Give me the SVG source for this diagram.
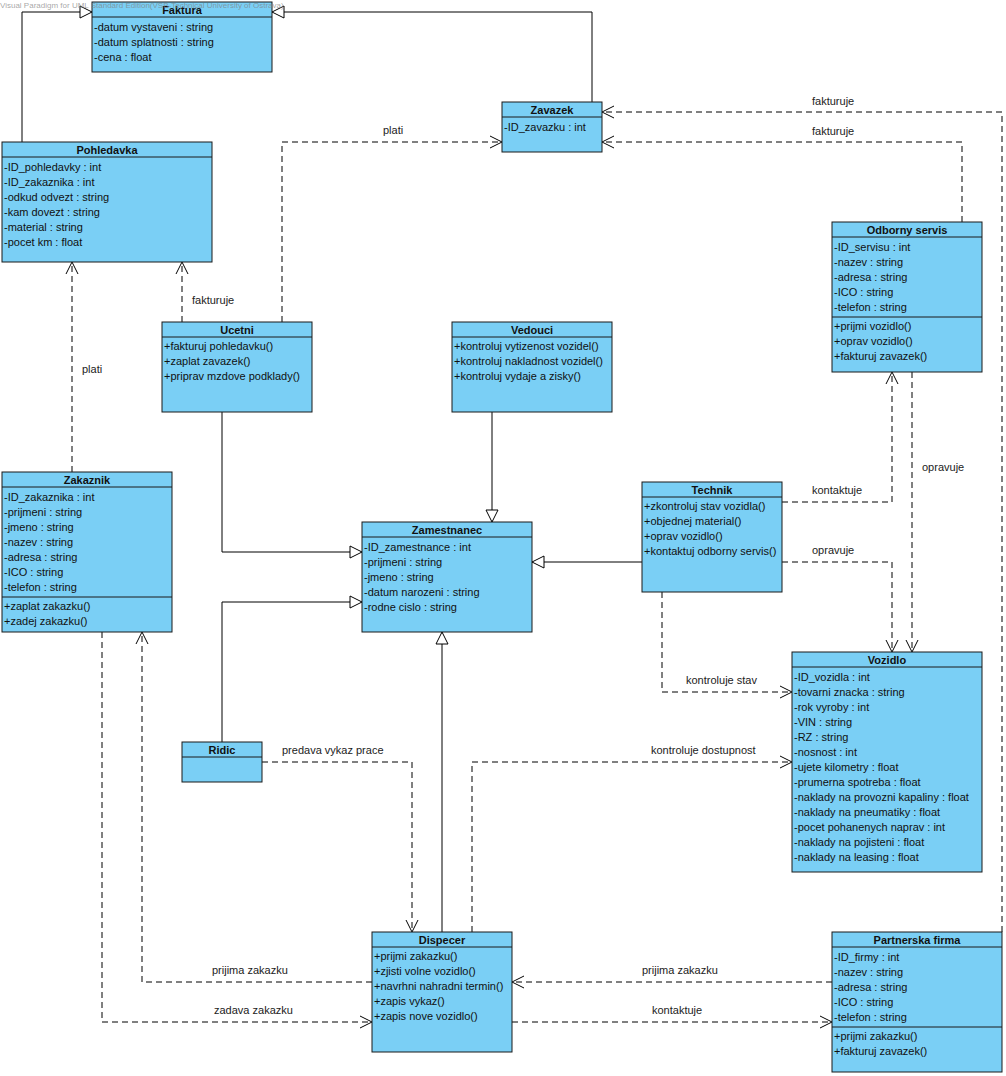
<svg xmlns="http://www.w3.org/2000/svg" width="1006" height="1076" viewBox="0 0 1006 1076">
<style>
.box{fill:#7ACFF5;stroke:#1a1a1a;stroke-width:1}
.div{stroke:#1a1a1a;stroke-width:1}
.t{font-family:"Liberation Sans",Arial,sans-serif;font-size:11px;fill:#111}
.title{font-family:"Liberation Sans",Arial,sans-serif;font-size:11px;font-weight:bold;fill:#111;text-anchor:middle}
.lbl{font-family:"Liberation Sans",Arial,sans-serif;font-size:11px;fill:#222}
.gen{fill:none;stroke:#000;stroke-width:1;marker-end:url(#tri)}
.dep{fill:none;stroke:#000;stroke-width:1;stroke-dasharray:6,4;marker-end:url(#open)}
.wm{font-family:"Liberation Sans",Arial,sans-serif;font-size:8px;fill:#808080;fill-opacity:0.7}
</style>
<defs>
<marker id="open" markerUnits="userSpaceOnUse" markerWidth="14" markerHeight="14" refX="12" refY="6" orient="auto" overflow="visible">
<path d="M0,0 L12,6 L0,12" fill="none" stroke="#000" stroke-width="1"/>
</marker>
<marker id="tri" markerUnits="userSpaceOnUse" markerWidth="14" markerHeight="14" refX="12" refY="6" orient="auto" overflow="visible">
<path d="M0,0 L12,6 L0,12 Z" fill="#fff" stroke="#000" stroke-width="1"/>
</marker>
</defs>
<rect width="1006" height="1076" fill="#fff"/>

<g id="connectors">
<path class="gen" d="M22,142 V12 H92"/>
<path class="gen" d="M592,102 V12 H272"/>
<path class="dep" d="M182,322 V262"/>
<path class="dep" d="M72,472 V262"/>
<path class="dep" d="M282,322 V142 H502"/>
<path class="dep" d="M1002,932 V112 H602"/>
<path class="dep" d="M962,222 V142 H602"/>
<path class="gen" d="M222,412 V552 H362"/>
<path class="gen" d="M492,412 V522"/>
<path class="gen" d="M222,742 V602 H362"/>
<path class="gen" d="M642,562 H532"/>
<path class="gen" d="M442,932 V632"/>
<path class="dep" d="M782,502 H892 V372"/>
<path class="dep" d="M912,372 V652"/>
<path class="dep" d="M782,562 H892 V652"/>
<path class="dep" d="M662,592 V692 H792"/>
<path class="dep" d="M472,932 V762 H792"/>
<path class="dep" d="M262,762 H412 V932"/>
<path class="dep" d="M372,982 H142 V632"/>
<path class="dep" d="M102,632 V1022 H372"/>
<path class="dep" d="M832,982 H512"/>
<path class="dep" d="M512,1022 H832"/>
<text class="lbl" x="192" y="304">fakturuje</text>
<text class="lbl" x="82" y="373">plati</text>
<text class="lbl" x="383" y="134">plati</text>
<text class="lbl" x="812" y="105">fakturuje</text>
<text class="lbl" x="812" y="135">fakturuje</text>
<text class="lbl" x="812" y="494">kontaktuje</text>
<text class="lbl" x="922" y="471">opravuje</text>
<text class="lbl" x="812" y="554">opravuje</text>
<text class="lbl" x="686" y="684">kontroluje stav</text>
<text class="lbl" x="651" y="754">kontroluje dostupnost</text>
<text class="lbl" x="282" y="754">predava vykaz prace</text>
<text class="lbl" x="212" y="974">prijima zakazku</text>
<text class="lbl" x="214" y="1014">zadava zakazku</text>
<text class="lbl" x="642" y="974">prijima zakazku</text>
<text class="lbl" x="652" y="1014">kontaktuje</text>
</g>

<g id="Faktura">
<rect class="box" x="92" y="2" width="180" height="70"/>
<line class="div" x1="92" y1="17" x2="272" y2="17"/>
<text class="title" x="182" y="14">Faktura</text>
<text class="t" x="94" y="31">-datum vystaveni : string</text>
<text class="t" x="94" y="46">-datum splatnosti : string</text>
<text class="t" x="94" y="61">-cena : float</text>
</g>

<g id="Pohledavka">
<rect class="box" x="2" y="142" width="210" height="120"/>
<line class="div" x1="2" y1="157" x2="212" y2="157"/>
<text class="title" x="107" y="154">Pohledavka</text>
<text class="t" x="4" y="171">-ID_pohledavky : int</text>
<text class="t" x="4" y="186">-ID_zakaznika : int</text>
<text class="t" x="4" y="201">-odkud odvezt : string</text>
<text class="t" x="4" y="216">-kam dovezt : string</text>
<text class="t" x="4" y="231">-material : string</text>
<text class="t" x="4" y="246">-pocet km : float</text>
</g>

<g id="Zavazek">
<rect class="box" x="502" y="102" width="100" height="50"/>
<line class="div" x1="502" y1="117" x2="602" y2="117"/>
<text class="title" x="552" y="114">Zavazek</text>
<text class="t" x="504" y="131">-ID_zavazku : int</text>
</g>

<g id="OdbornyServis">
<rect class="box" x="832" y="222" width="150" height="150"/>
<line class="div" x1="832" y1="237" x2="982" y2="237"/>
<line class="div" x1="832" y1="317" x2="982" y2="317"/>
<text class="title" x="907" y="234">Odborny servis</text>
<text class="t" x="834" y="251">-ID_servisu : int</text>
<text class="t" x="834" y="266">-nazev : string</text>
<text class="t" x="834" y="281">-adresa : string</text>
<text class="t" x="834" y="296">-ICO : string</text>
<text class="t" x="834" y="311">-telefon : string</text>
<text class="t" x="834" y="330">+prijmi vozidlo()</text>
<text class="t" x="834" y="345">+oprav vozidlo()</text>
<text class="t" x="834" y="360">+fakturuj zavazek()</text>
</g>

<g id="Ucetni">
<rect class="box" x="162" y="322" width="150" height="90"/>
<line class="div" x1="162" y1="337" x2="312" y2="337"/>
<text class="title" x="237" y="334">Ucetni</text>
<text class="t" x="164" y="350">+fakturuj pohledavku()</text>
<text class="t" x="164" y="365">+zaplat zavazek()</text>
<text class="t" x="164" y="380">+priprav mzdove podklady()</text>
</g>

<g id="Vedouci">
<rect class="box" x="452" y="322" width="160" height="90"/>
<line class="div" x1="452" y1="337" x2="612" y2="337"/>
<text class="title" x="532" y="334">Vedouci</text>
<text class="t" x="454" y="350">+kontroluj vytizenost vozidel()</text>
<text class="t" x="454" y="365">+kontroluj nakladnost vozidel()</text>
<text class="t" x="454" y="380">+kontroluj vydaje a zisky()</text>
</g>

<g id="Zakaznik">
<rect class="box" x="2" y="472" width="170" height="160"/>
<line class="div" x1="2" y1="487" x2="172" y2="487"/>
<line class="div" x1="2" y1="597" x2="172" y2="597"/>
<text class="title" x="87" y="484">Zakaznik</text>
<text class="t" x="4" y="501">-ID_zakaznika : int</text>
<text class="t" x="4" y="516">-prijmeni : string</text>
<text class="t" x="4" y="531">-jmeno : string</text>
<text class="t" x="4" y="546">-nazev : string</text>
<text class="t" x="4" y="561">-adresa : string</text>
<text class="t" x="4" y="576">-ICO : string</text>
<text class="t" x="4" y="591">-telefon : string</text>
<text class="t" x="4" y="610">+zaplat zakazku()</text>
<text class="t" x="4" y="625">+zadej zakazku()</text>
</g>

<g id="Zamestnanec">
<rect class="box" x="362" y="522" width="170" height="110"/>
<line class="div" x1="362" y1="537" x2="532" y2="537"/>
<text class="title" x="447" y="534">Zamestnanec</text>
<text class="t" x="364" y="551">-ID_zamestnance : int</text>
<text class="t" x="364" y="566">-prijmeni : string</text>
<text class="t" x="364" y="581">-jmeno : string</text>
<text class="t" x="364" y="596">-datum narozeni : string</text>
<text class="t" x="364" y="611">-rodne cislo : string</text>
</g>

<g id="Technik">
<rect class="box" x="642" y="482" width="140" height="110"/>
<line class="div" x1="642" y1="497" x2="782" y2="497"/>
<text class="title" x="712" y="494">Technik</text>
<text class="t" x="644" y="510">+zkontroluj stav vozidla()</text>
<text class="t" x="644" y="525">+objednej material()</text>
<text class="t" x="644" y="540">+oprav vozidlo()</text>
<text class="t" x="644" y="555">+kontaktuj odborny servis()</text>
</g>

<g id="Vozidlo">
<rect class="box" x="792" y="652" width="190" height="220"/>
<line class="div" x1="792" y1="667" x2="982" y2="667"/>
<text class="title" x="887" y="664">Vozidlo</text>
<text class="t" x="794" y="681">-ID_vozidla : int</text>
<text class="t" x="794" y="696">-tovarni znacka : string</text>
<text class="t" x="794" y="711">-rok vyroby : int</text>
<text class="t" x="794" y="726">-VIN : string</text>
<text class="t" x="794" y="741">-RZ : string</text>
<text class="t" x="794" y="756">-nosnost : int</text>
<text class="t" x="794" y="771">-ujete kilometry : float</text>
<text class="t" x="794" y="786">-prumerna spotreba : float</text>
<text class="t" x="794" y="801">-naklady na provozni kapaliny : float</text>
<text class="t" x="794" y="816">-naklady na pneumatiky : float</text>
<text class="t" x="794" y="831">-pocet pohanenych naprav : int</text>
<text class="t" x="794" y="846">-naklady na pojisteni : float</text>
<text class="t" x="794" y="861">-naklady na leasing : float</text>
</g>

<g id="Ridic">
<rect class="box" x="182" y="742" width="80" height="40"/>
<line class="div" x1="182" y1="757" x2="262" y2="757"/>
<text class="title" x="222" y="754">Ridic</text>
</g>

<g id="Dispecer">
<rect class="box" x="372" y="932" width="140" height="120"/>
<line class="div" x1="372" y1="947" x2="512" y2="947"/>
<text class="title" x="442" y="944">Dispecer</text>
<text class="t" x="374" y="960">+prijmi zakazku()</text>
<text class="t" x="374" y="975">+zjisti volne vozidlo()</text>
<text class="t" x="374" y="990">+navrhni nahradni termin()</text>
<text class="t" x="374" y="1005">+zapis vykaz()</text>
<text class="t" x="374" y="1020">+zapis nove vozidlo()</text>
</g>

<g id="PartnerskaFirma">
<rect class="box" x="832" y="932" width="170" height="140"/>
<line class="div" x1="832" y1="947" x2="1002" y2="947"/>
<line class="div" x1="832" y1="1027" x2="1002" y2="1027"/>
<text class="title" x="917" y="944">Partnerska firma</text>
<text class="t" x="834" y="961">-ID_firmy : int</text>
<text class="t" x="834" y="976">-nazev : string</text>
<text class="t" x="834" y="991">-adresa : string</text>
<text class="t" x="834" y="1006">-ICO : string</text>
<text class="t" x="834" y="1021">-telefon : string</text>
<text class="t" x="834" y="1040">+prijmi zakazku()</text>
<text class="t" x="834" y="1055">+fakturuj zavazek()</text>
</g>

<text class="wm" x="0" y="8">Visual Paradigm for UML Standard Edition(VSB-Technical University of Ostrava)</text>
</svg>
